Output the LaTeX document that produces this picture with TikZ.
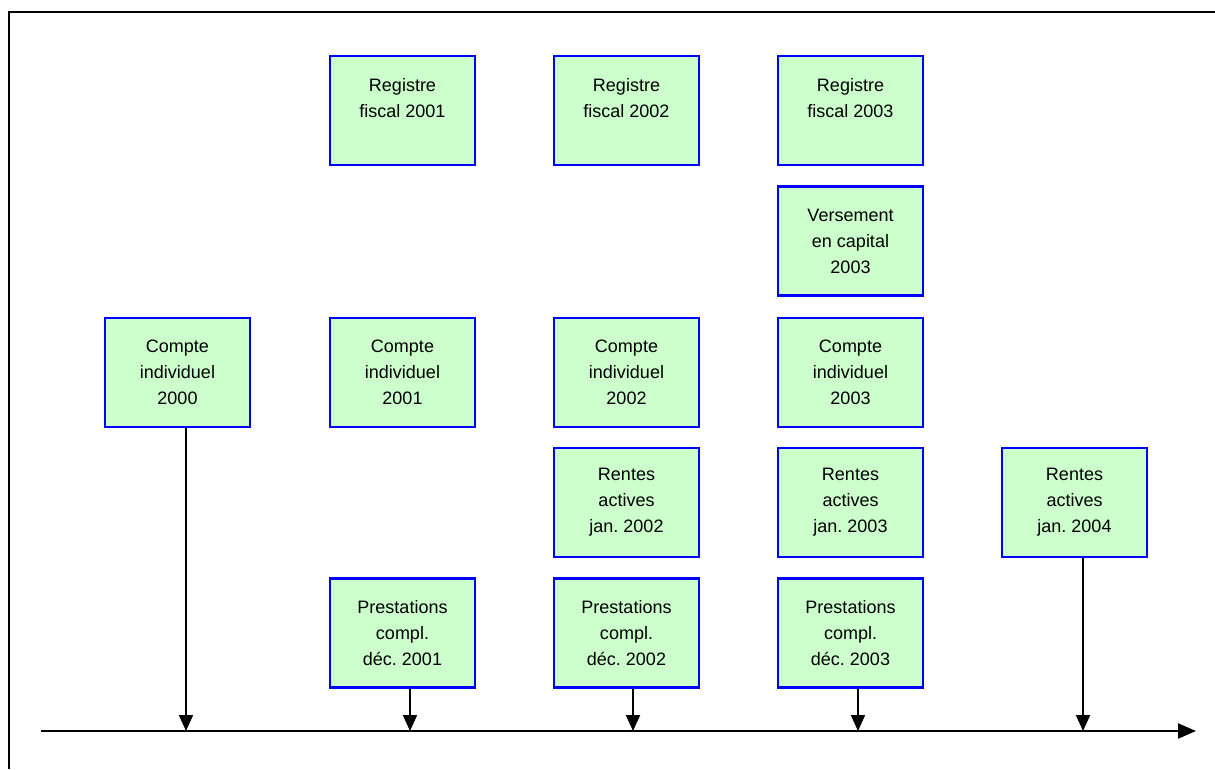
\documentclass[tikz,border=0pt]{standalone}
\usepackage{fontspec}
\setmainfont{Liberation Sans}
\usetikzlibrary{arrows.meta}
\definecolor{boxfill}{HTML}{CCFFCC}
\definecolor{boxline}{HTML}{0000FF}
\frenchspacing
\begin{document}
\begin{tikzpicture}[x=1pt,y=-1pt,
  databox/.style={draw=boxline, fill=boxfill, line width=2.2pt, minimum width=145pt, minimum height=109pt,
    inner sep=0pt, align=center, font=\fontsize{18}{26}\selectfont},
  tick/.style={line width=2pt, -{Triangle[length=16pt,width=14pt]}},
  axisline/.style={line width=2.2pt, -{Triangle[length=18pt,width=15pt]}}]
\useasboundingbox (0,0) rectangle (1215,769);
\draw[line width=2.5pt] (9,769) -- (9,12) -- (1215,12);
\node[databox] (r1) at (402.5,110.5) {Registre\\fiscal 2001\\\mbox{}};
\node[databox] (r2) at (626.5,110.5) {Registre\\fiscal 2002\\\mbox{}};
\node[databox] (r3) at (850.5,110.5) {Registre\\fiscal 2003\\\mbox{}};
\node[databox] (v3) at (850.5,241) {Versement\\en capital\\2003};
\node[databox] (c0) at (177.5,372.5) {Compte\\individuel\\2000};
\node[databox] (c1) at (402.5,372.5) {Compte\\individuel\\2001};
\node[databox] (c2) at (626.5,372.5) {Compte\\individuel\\2002};
\node[databox] (c3) at (850.5,372.5) {Compte\\individuel\\2003};
\node[databox] (a2) at (626.5,502.5) {Rentes\\actives\\jan. 2002};
\node[databox] (a3) at (850.5,502.5) {Rentes\\actives\\jan. 2003};
\node[databox] (a4) at (1074.5,502.5) {Rentes\\actives\\jan. 2004};
\node[databox] (p1) at (402.5,633) {Prestations\\compl.\\déc. 2001};
\node[databox] (p2) at (626.5,633) {Prestations\\compl.\\déc. 2002};
\node[databox] (p3) at (850.5,633) {Prestations\\compl.\\déc. 2003};
\coordinate (ax0) at (41,731);
\coordinate (ax1) at (1196,731);
\coordinate (t0) at (186,731);
\coordinate (t1) at (410,731);
\coordinate (t2) at (633,731);
\coordinate (t3) at (858,731);
\coordinate (t4) at (1083,731);
\draw[axisline] (ax0) -- (ax1);
\draw[tick] (t0 |- c0.south) -- (t0);
\draw[tick] (t1 |- p1.south) -- (t1);
\draw[tick] (t2 |- p2.south) -- (t2);
\draw[tick] (t3 |- p3.south) -- (t3);
\draw[tick] (t4 |- a4.south) -- (t4);
\end{tikzpicture}
\end{document}
